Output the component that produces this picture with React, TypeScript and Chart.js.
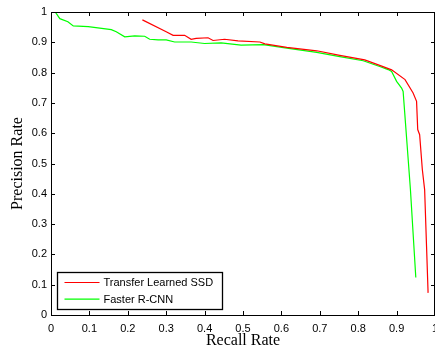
import React, { useEffect, useRef } from "react";
import { Chart, registerables } from "chart.js";

Chart.register(...registerables);

const seriesLabels = ["Transfer Learned SSD", "Faster R-CNN"];
const seriesColors = ["rgb(255,0,0)", "rgb(0,255,0)"];

const ssdRecall = [0.238, 0.300, 0.318, 0.348, 0.365, 0.378, 0.409, 0.422, 0.452, 0.487, 0.544, 0.557, 0.614, 0.692, 0.752, 0.817, 0.856, 0.887, 0.922, 0.943, 0.952, 0.955, 0.960, 0.967, 0.973, 0.978, 0.982];
const ssdPrecision = [0.974, 0.935, 0.923, 0.923, 0.910, 0.913, 0.915, 0.906, 0.910, 0.905, 0.901, 0.895, 0.883, 0.872, 0.857, 0.842, 0.824, 0.809, 0.777, 0.733, 0.705, 0.612, 0.595, 0.480, 0.414, 0.226, 0.073];

const rcnnRecall = [0.000, 0.011, 0.023, 0.044, 0.058, 0.097, 0.157, 0.170, 0.192, 0.218, 0.244, 0.257, 0.279, 0.300, 0.322, 0.365, 0.400, 0.443, 0.495, 0.553, 0.614, 0.692, 0.752, 0.813, 0.856, 0.878, 0.887, 0.900, 0.913, 0.917, 0.936, 0.950];
const rcnnPrecision = [1.000, 1.000, 0.978, 0.968, 0.954, 0.952, 0.942, 0.935, 0.918, 0.921, 0.920, 0.910, 0.908, 0.908, 0.901, 0.901, 0.896, 0.898, 0.891, 0.892, 0.881, 0.867, 0.853, 0.839, 0.820, 0.810, 0.804, 0.771, 0.749, 0.738, 0.414, 0.124];

const tickValues = [0, 0.1, 0.2, 0.3, 0.4, 0.5, 0.6, 0.7, 0.8, 0.9, 1];
const xTickLabels = ["0", "0.1", "0.2", "0.3", "0.4", "0.5", "0.6", "0.7", "0.8", "0.9", "1"];
const yTickLabels = ["0", "0.1", "0.2", "0.3", "0.4", "0.5", "0.6", "0.7", "0.8", "0.9", "1"];
const xTitle = "Recall Rate";
const yTitle = "Precision Rate";

const SANS = '"Liberation Sans", Arial, sans-serif';
const SERIF = '"Liberation Serif", "Times New Roman", serif';

const framePlugin = {
  id: "matlabFrame",
  afterDraw(chart: any) {
    const { ctx, chartArea: ca, scales } = chart;
    const xs = scales.x;
    const ys = scales.y;
    const tl = 4;
    ctx.save();
    ctx.strokeStyle = "#000";
    ctx.lineWidth = 1;
    // top and right borders
    ctx.beginPath();
    ctx.moveTo(ca.left, Math.round(ca.top) + 0.5);
    ctx.lineTo(ca.right, Math.round(ca.top) + 0.5);
    ctx.moveTo(Math.round(ca.right) - 0.5, ca.top);
    ctx.lineTo(Math.round(ca.right) - 0.5, ca.bottom);
    ctx.stroke();
    // inward ticks
    ctx.beginPath();
    tickValues.forEach((v) => {
      const px = Math.round(xs.getPixelForValue(v)) + 0.5;
      ctx.moveTo(px, ca.bottom);
      ctx.lineTo(px, ca.bottom - tl);
      ctx.moveTo(px, ca.top);
      ctx.lineTo(px, ca.top + tl);
      const py = Math.round(ys.getPixelForValue(v)) + 0.5;
      ctx.moveTo(ca.left, py);
      ctx.lineTo(ca.left + tl, py);
      ctx.moveTo(ca.right, py);
      ctx.lineTo(ca.right - tl, py);
    });
    ctx.stroke();

    // legend box
    const bx = Math.round(ca.left + 6) + 0.5;
    const bw = 165;
    const bh = 37;
    const by = Math.round(ca.bottom - 6 - bh) + 0.5;
    ctx.fillStyle = "#fff";
    ctx.fillRect(bx, by, bw, bh);
    ctx.lineWidth = 1.3;
    ctx.strokeStyle = "#000";
    ctx.strokeRect(bx, by, bw, bh);
    ctx.font = "11px " + SANS;
    ctx.textBaseline = "middle";
    ctx.textAlign = "left";
    chart.data.datasets.forEach((ds: any, i: number) => {
      const ly = by + 10 + i * 16.6;
      ctx.strokeStyle = ds.borderColor;
      ctx.lineWidth = 1.2;
      ctx.beginPath();
      ctx.moveTo(bx + 7, ly);
      ctx.lineTo(bx + 42, ly);
      ctx.stroke();
      ctx.fillStyle = "#000";
      ctx.fillText(ds.label, bx + 46, ly + 0.5);
    });
    ctx.restore();
  },
};

export default function App() {
  const ref = useRef<HTMLCanvasElement>(null);
  useEffect(() => {
    document.body.style.margin = "0";
    const canvas = ref.current!;
    const chart = new Chart(canvas, {
      type: "scatter",
      data: {
        datasets: [
          {
            label: seriesLabels[0],
            data: ssdRecall.map((r, i) => ({ x: r, y: ssdPrecision[i] })),
            borderColor: seriesColors[0],
            backgroundColor: seriesColors[0],
            borderWidth: 1.2,
            showLine: true,
            pointRadius: 0,
            tension: 0,
          },
          {
            label: seriesLabels[1],
            data: rcnnRecall.map((r, i) => ({ x: r, y: rcnnPrecision[i] })),
            borderColor: seriesColors[1],
            backgroundColor: seriesColors[1],
            borderWidth: 1.2,
            showLine: true,
            pointRadius: 0,
            tension: 0,
          },
        ],
      },
      options: {
        animation: false,
        responsive: false,
        devicePixelRatio: 1,
        layout: { padding: { top: 12, right: 0, bottom: 0, left: 0 } },
        plugins: { legend: { display: false }, tooltip: { enabled: false } },
        scales: {
          x: {
            type: "linear",
            min: 0,
            max: 1,
            afterBuildTicks: (s: any) => {
              s.ticks = tickValues.map((v) => ({ value: v }));
            },
            afterFit: (s: any) => {
              s.height = 36;
              s.paddingLeft = 0;
              s.paddingRight = 0;
            },
            ticks: {
              autoSkip: false,
              maxRotation: 0,
              padding: 7,
              color: "#000",
              font: { family: SANS, size: 11 },
              callback: (_v: any, i: number) => xTickLabels[i],
            },
            grid: { display: false, drawTicks: false },
            border: { display: true, color: "#000", width: 1 },
            title: {
              display: true,
              text: xTitle,
              color: "#000",
              font: { family: SERIF, size: 16 },
              padding: { top: 0, bottom: 0.5 },
            },
          },
          y: {
            type: "linear",
            min: 0,
            max: 1,
            afterBuildTicks: (s: any) => {
              s.ticks = tickValues.map((v) => ({ value: v }));
            },
            afterFit: (s: any) => {
              s.width = 51;
              s.paddingTop = 0;
              s.paddingBottom = 0;
            },
            ticks: {
              autoSkip: false,
              padding: 4,
              color: "#000",
              font: { family: SANS, size: 11 },
              callback: (_v: any, i: number) => yTickLabels[i],
            },
            grid: { display: false, drawTicks: false },
            border: { display: true, color: "#000", width: 1 },
            title: {
              display: true,
              text: yTitle,
              color: "#000",
              font: { family: SERIF, size: 16 },
              padding: { top: 8, bottom: 0 },
            },
          },
        },
      },
      plugins: [framePlugin],
    } as any);
    return () => chart.destroy();
  }, []);
  return (
    <div style={{ position: "absolute", left: 0, top: 0, width: 435, height: 351, background: "#fff" }}>
      <canvas ref={ref} width={435} height={351} style={{ width: 435, height: 351, display: "block" }} />
    </div>
  );
}
